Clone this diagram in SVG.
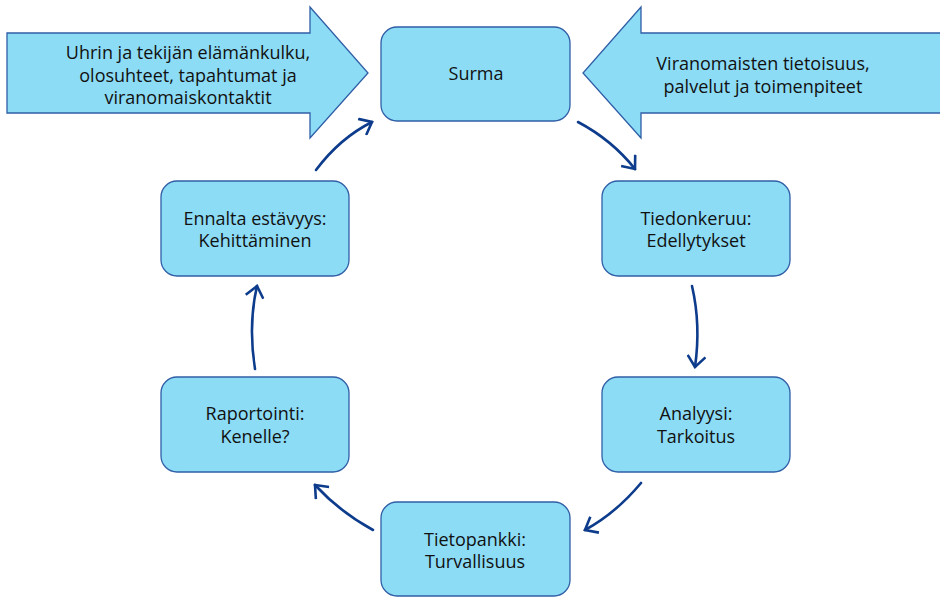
<svg xmlns="http://www.w3.org/2000/svg" width="940" height="597" viewBox="0 0 940 597">
<style>
.box{fill:#8DDCF6;stroke:#2F5EA6;stroke-width:1.3}
.big{fill:#8DDCF6;stroke:#2F5EA6;stroke-width:1.3}
.t{font-family:"Open Sans","Liberation Sans",sans-serif;font-size:18px;fill:#111;text-anchor:middle}
.c{fill:none;stroke:#0E3C8C;stroke-width:2.6;stroke-linecap:round}
</style>
<defs>
<marker id="ah" markerUnits="userSpaceOnUse" viewBox="-14 -10 16 20" markerWidth="16" markerHeight="20" refX="0" refY="0" orient="auto">
<path d="M-11,-9 L0,0 L-11,9" fill="none" stroke="#0E3C8C" stroke-width="2.6" stroke-linejoin="miter"/>
</marker>
</defs>
<rect width="940" height="597" fill="#fff"/>
<g id="arrow-left">
<polygon class="big" points="7,33 310,33 310,7 368,73 310,138 310,113 7,113"/>
<text class="t" x="188" y="59">Uhrin ja tekijän elämänkulku,</text>
<text class="t" x="188" y="82">olosuhteet, tapahtumat ja</text>
<text class="t" x="188" y="104">viranomaiskontaktit</text>
</g>
<g id="arrow-right">
<polygon class="big" points="945,33 641,33 641,7 583,73 641,138 641,113 945,113"/>
<text class="t" x="763" y="70">Viranomaisten tietoisuus,</text>
<text class="t" x="763" y="93">palvelut ja toimenpiteet</text>
</g>
<g id="surma">
<rect class="box" x="381" y="27" width="189" height="94" rx="16"/>
<text class="t" x="476" y="80">Surma</text>
</g>
<g id="tiedonkeruu">
<rect class="box" x="602" y="181" width="188" height="95" rx="16"/>
<text class="t" x="696" y="225">Tiedonkeruu:</text>
<text class="t" x="696" y="247">Edellytykset</text>
</g>
<g id="analyysi">
<rect class="box" x="602" y="377" width="188" height="95" rx="16"/>
<text class="t" x="696" y="420">Analyysi:</text>
<text class="t" x="696" y="443">Tarkoitus</text>
</g>
<g id="tietopankki">
<rect class="box" x="381" y="502" width="189" height="94" rx="16"/>
<text class="t" x="475" y="546">Tietopankki:</text>
<text class="t" x="475" y="568">Turvallisuus</text>
</g>
<g id="raportointi">
<rect class="box" x="161" y="377" width="188" height="95" rx="16"/>
<text class="t" x="255" y="420">Raportointi:</text>
<text class="t" x="255" y="443">Kenelle?</text>
</g>
<g id="ennalta">
<rect class="box" x="161" y="181" width="188" height="95" rx="16"/>
<text class="t" x="255" y="225">Ennalta estävyys:</text>
<text class="t" x="255" y="247">Kehittäminen</text>
</g>
<g id="connectors">
<path class="c" d="M578,122 Q612,140 635,169" marker-end="url(#ah)"/>
<path class="c" d="M692,286 Q701,325 695,367" marker-end="url(#ah)"/>
<path class="c" d="M641,483 Q616,513 585,530" marker-end="url(#ah)"/>
<path class="c" d="M373,530 Q340,512 315,485" marker-end="url(#ah)"/>
<path class="c" d="M255,369 Q248,325 257,286" marker-end="url(#ah)"/>
<path class="c" d="M316,170 Q340,138 372,122" marker-end="url(#ah)"/>
</g>
</svg>
